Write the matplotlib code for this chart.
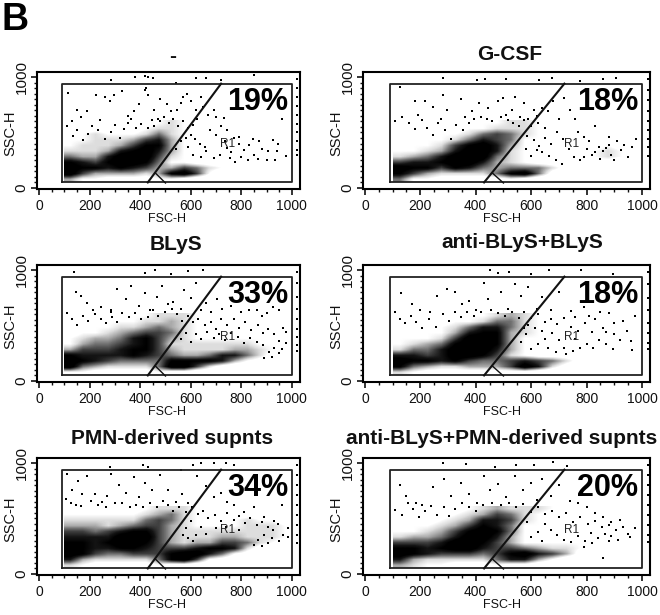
import matplotlib
matplotlib.use("Agg")
import matplotlib.pyplot as plt
from matplotlib.colors import LinearSegmentedColormap

plt.rcParams['font.family'] = ['Liberation Sans', 'DejaVu Sans']

W, H = 660, 615
TITLES = ["-", "G-CSF", "BLyS", "anti-BLyS+BLyS", "PMN-derived supnts", "anti-BLyS+PMN-derived supnts"]
PERCENTS = ["19%", "18%", "33%", "18%", "34%", "20%"]
XTICKS = [0, 200, 400, 600, 800, 1000]
GATE_X = [90, 1000, 1000, 90, 90]
GATE_Y = [50, 50, 940, 940, 50]
R1_LINE_X = [430, 720]
R1_LINE_Y = [50, 940]
R1_TAIL_X = [460, 500]
R1_TAIL_Y = [135, 45]

# Estimated density per 50x50 cell (0-9), FSC 100..1000 left to right, SSC 600..50 top to bottom
DENSITY_NONE = [
 [1,1,1,1,1,1,1,2,3,2,2,1,0,0,0,0,0,0],
 [1,1,1,1,1,1,2,3,3,2,1,1,0,0,0,0,0,0],
 [1,2,3,2,2,2,3,5,3,2,1,1,1,0,0,0,0,0],
 [2,2,3,3,3,4,6,7,4,2,1,1,0,1,0,0,0,0],
 [2,3,3,3,4,6,8,8,4,2,1,1,0,1,1,0,1,0],
 [3,3,3,4,7,8,9,7,4,2,1,1,1,1,1,1,1,1],
 [5,4,4,7,9,9,9,6,3,2,1,1,1,1,1,0,1,1],
 [8,7,6,8,9,9,8,5,2,2,1,1,1,1,1,0,0,0],
 [9,8,8,7,8,7,6,4,4,6,5,3,2,1,0,0,0,0],
 [9,6,4,4,4,4,3,4,8,9,6,2,0,0,0,0,0,0],
 [4,2,2,1,1,1,1,2,2,1,0,0,0,0,0,0,0,0]]
DENSITY_GCSF = [
 [1,1,1,1,1,1,2,2,3,3,2,1,0,0,0,0,0,0],
 [1,2,1,1,1,2,2,3,3,3,2,1,1,0,0,0,0,0],
 [1,1,1,2,2,3,5,6,5,3,2,1,1,0,0,0,0,0],
 [1,1,2,2,3,5,7,6,5,2,2,1,1,0,0,1,0,0],
 [2,2,2,3,6,8,9,7,4,2,1,1,1,1,1,2,1,1],
 [2,2,3,4,7,9,9,7,3,2,1,1,1,1,2,3,2,1],
 [3,4,5,7,9,9,9,5,3,2,1,1,1,1,2,3,2,1],
 [6,7,7,8,9,9,7,4,3,2,1,1,1,1,1,1,0,0],
 [9,8,8,6,8,7,5,4,5,5,5,3,1,0,0,0,0,0],
 [8,6,4,3,3,3,3,5,8,9,5,1,0,0,0,0,0,0],
 [5,2,2,1,1,1,1,1,2,1,0,0,0,0,0,0,0,0]]
DENSITY_BLYS = [
 [1,1,2,2,2,2,2,3,3,3,2,1,1,0,0,0,0,0],
 [1,1,1,2,2,2,3,3,4,3,2,1,1,1,0,0,0,0],
 [1,2,2,2,3,3,4,5,4,3,2,1,1,0,1,1,0,0],
 [1,2,2,3,4,5,6,6,5,3,2,1,1,1,1,1,1,1],
 [2,3,4,4,5,7,8,6,4,3,2,2,2,2,2,2,2,1],
 [2,4,5,5,6,7,8,6,3,3,3,3,3,3,3,2,2,2],
 [4,6,6,6,7,8,8,6,4,3,3,3,3,4,4,3,2,1],
 [8,7,7,7,7,8,7,6,5,4,4,5,7,7,5,3,1,1],
 [9,8,7,6,5,5,5,5,8,8,8,8,7,4,2,1,0,0],
 [9,5,4,3,3,3,3,5,9,9,6,3,1,0,0,0,0,0],
 [2,2,1,1,1,1,1,2,1,1,0,0,0,0,0,0,0,0]]
DENSITY_ANTI = [
 [1,1,1,1,1,2,2,3,4,3,2,2,1,1,1,1,0,0],
 [1,1,1,1,2,2,3,5,5,3,2,1,1,0,1,0,0,0],
 [1,1,1,2,3,5,7,7,5,3,2,1,1,0,0,1,1,0],
 [1,2,2,2,4,7,8,8,4,3,2,1,1,1,1,1,1,0],
 [2,2,2,3,6,9,9,8,4,2,2,1,1,1,1,1,1,1],
 [2,3,4,5,8,9,9,8,4,2,1,1,1,1,1,1,2,1],
 [3,5,5,7,9,9,9,7,4,2,1,1,1,1,1,1,1,0],
 [7,7,6,7,9,9,8,6,3,2,1,1,1,1,1,0,1,0],
 [9,8,8,7,8,6,5,5,6,7,6,5,3,1,0,0,0,0],
 [8,5,4,3,3,4,4,4,6,9,7,3,1,0,0,0,0,0],
 [3,2,1,1,1,1,1,1,1,1,0,0,0,0,0,0,0,0]]
DENSITY_PMN = [
 [2,2,2,2,1,1,2,3,3,3,2,1,1,1,1,0,0,0],
 [2,2,2,2,2,2,3,4,5,3,2,1,1,1,1,1,1,0],
 [3,3,3,3,3,3,5,6,5,3,2,2,2,2,3,2,2,1],
 [4,4,4,3,4,5,6,6,4,3,2,2,2,2,3,3,3,2],
 [6,6,5,6,7,8,8,6,4,3,3,3,3,3,3,3,3,2],
 [7,7,7,7,9,9,9,6,4,3,3,3,4,4,3,3,3,2],
 [8,8,7,8,9,9,8,6,4,3,4,4,6,6,5,3,2,1],
 [9,8,7,7,8,8,7,6,6,6,7,8,8,7,3,1,0,0],
 [9,8,6,5,5,6,6,6,8,9,9,7,5,2,1,0,0,0],
 [7,4,3,3,3,3,3,5,8,9,6,2,1,0,0,0,0,0],
 [3,2,1,1,1,1,1,2,1,1,0,0,0,0,0,0,0,0]]
DENSITY_ANTI_PMN = [
 [1,1,1,1,1,2,3,4,3,3,3,2,1,1,1,1,0,0],
 [1,1,1,1,2,3,4,6,5,3,2,1,1,1,1,1,1,0],
 [1,2,1,2,3,4,7,7,6,3,2,1,1,1,1,1,1,0],
 [1,2,2,3,4,6,8,7,5,2,2,1,1,1,2,2,1,1],
 [2,2,3,4,6,8,9,8,5,2,1,1,1,2,2,2,2,1],
 [3,4,4,5,7,9,9,7,4,2,1,1,1,2,2,2,2,1],
 [6,6,6,7,9,9,8,6,4,2,2,2,2,2,2,1,1,0],
 [8,8,7,8,9,9,7,6,6,5,4,3,3,2,1,0,0,0],
 [9,8,7,6,6,6,5,6,8,9,7,6,4,1,0,0,0,0],
 [7,4,3,3,3,3,3,5,7,7,4,2,0,0,0,0,0,0],
 [4,3,2,2,1,1,1,2,1,1,0,0,0,0,0,0,0,0]]
DENSITIES = [DENSITY_NONE, DENSITY_GCSF, DENSITY_BLYS, DENSITY_ANTI, DENSITY_PMN, DENSITY_ANTI_PMN]

# Individually read events outside the dense clouds: (FSC, SSC)
EVENTS_NONE = [(115,860),(225,840),(260,820),(150,700),(190,690),(130,600),(165,640),(240,610),(280,780),(295,840),(330,870),(350,650),(375,690),(395,760),(420,880),(425,900),(430,840),(445,610),(455,700),(470,620),(480,800),(505,760),(520,690),(545,700),(560,770),(570,820),(585,850),(600,780),(620,700),(640,820),(650,730),(670,660),(690,700),(700,640),(730,630),(745,360),(760,320),(790,460),(800,280),(830,390),(850,300),(870,420),(880,350),(900,250),(925,430),(940,330),(960,620),(975,290),(285,970),(380,1000),(420,1010),(430,1000),(450,990),(540,950),(620,990),(660,990),(720,970),(850,1020),
 (110,560),(135,470),(150,520),(175,430),(195,490),(210,560),(235,520),(260,440),(285,500),(300,570),(320,450),(335,530),(350,590),(365,620),(385,540),(405,580),(430,540),(455,560),(480,600),(495,640),(515,590),(530,620),(550,560),(570,600),(590,540),(610,570),(625,620),(600,480),(615,440),(635,400),(655,370),(675,520),(700,480),(720,560),(745,520),(770,450),(790,400),(810,340),(825,250),(845,440),(865,260),(905,330),(935,250),(945,400),(715,300),(690,270),(660,330),(640,280),(610,300),(590,370),(735,420),(755,270),(775,230),(580,450),(560,420),(540,350),
 (1022,980),(1022,900),(1022,820),(1022,740),(1022,660),(1022,580),(1022,500),(1022,420),(1022,340),(1022,300)]
EVENTS_GCSF = [(125,910),(180,780),(190,660),(215,780),(245,730),(275,620),(280,840),(295,700),(345,800),(360,640),(385,690),(410,770),(440,620),(445,720),(480,780),(500,810),(510,660),(530,700),(540,820),(560,640),(575,770),(590,620),(610,700),(620,650),(640,720),(660,690),(680,780),(700,620),(720,810),(740,700),(760,620),(790,460),(800,350),(820,300),(850,260),(870,360),(890,300),(910,420),(925,340),(950,280),(280,990),(405,975),(435,985),(510,985),(630,970),(675,990),(775,960),(860,985),(905,990),
 (110,600),(135,640),(160,590),(180,530),(205,610),(225,540),(245,480),(265,590),(290,520),(310,440),(330,570),(355,520),(375,590),(395,620),(420,640),(460,600),(490,640),(515,610),(535,590),(555,560),(575,610),(600,560),(625,590),(650,540),(585,470),(610,430),(630,380),(650,450),(670,400),(695,500),(715,440),(735,350),(755,280),(775,250),(640,320),(665,290),(690,250),(710,220),(600,290),(620,340),(580,350),(790,280),(810,420),(830,320),(845,370),(860,330),(880,390),(900,250),(935,390),(965,370),(980,440),(830,560),(880,460),(770,500),
 (1022,980),(1022,880),(1022,790),(1022,690),(1022,600),(1022,520),(1022,440),(1022,370),(1022,290)]
EVENTS_BLYS = [(140,980),(145,800),(165,770),(190,700),(215,640),(245,670),(285,620),(310,830),(345,740),(365,860),(395,680),(420,790),(440,640),(465,760),(485,860),(510,690),(530,710),(560,650),(575,820),(600,750),(620,880),(640,640),(660,700),(680,620),(705,740),(725,650),(760,680),(800,620),(830,640),(860,640),(880,590),(900,610),(925,670),(950,640),(965,480),(975,440),(285,640),(420,970),(460,1000),(520,960),(590,990),(650,1000),
 (110,610),(130,560),(150,500),(175,590),(195,540),(220,600),(245,560),(265,520),(290,580),(310,530),(330,610),(355,580),(380,610),(405,560),(430,580),(450,640),(470,590),(500,620),(525,650),(545,600),(565,540),(590,590),(610,530),(630,560),(655,500),(680,530),(700,470),(720,560),(745,500),(770,560),(790,480),(815,530),(840,460),(865,500),(885,430),(905,470),(930,420),(950,360),(975,340),(960,290),(930,300),(910,260),(885,320),(860,350),(835,390),(810,340),(785,400),(760,430),(735,370),(710,420),(690,390),(665,440),(640,380),(620,420),(600,350),(580,430),(560,380),(920,220),(950,250),(890,210),
 (1022,980),(1022,880),(1022,760),(1022,650),(1022,560),(1022,470),(1022,400),(1022,320),(1022,270)]
EVENTS_ANTI = [(130,790),(170,690),(200,640),(235,620),(260,770),(295,830),(325,800),(350,690),(375,720),(400,640),(430,880),(445,740),(490,800),(515,650),(540,870),(565,770),(590,850),(620,650),(640,760),(670,640),(700,800),(745,630),(760,580),(790,670),(810,590),(830,560),(860,480),(880,610),(900,420),(930,540),(960,360),(975,590),(450,1000),(480,970),(520,980),(600,960),(665,1000),(780,1000),(895,960),
 (110,620),(125,560),(145,520),(165,590),(185,530),(205,480),(230,560),(255,490),(280,600),(305,540),(325,620),(345,580),(370,620),(395,590),(420,620),(455,640),(480,610),(505,590),(530,620),(555,570),(575,620),(600,570),(625,600),(650,530),(670,560),(695,510),(720,570),(745,490),(770,450),(795,520),(820,440),(845,370),(870,330),(895,290),(920,370),(945,450),(965,280),(900,520),(850,620),(800,330),(775,300),(750,270),(725,240),(700,370),(675,430),(650,380),(625,330),(600,290),(580,420),(565,350),(720,300),(690,260),(660,300),(640,450),(615,480),(590,500),(575,480),(760,380),(825,300),(870,440),
 (1022,980),(1022,870),(1022,750),(1022,640),(1022,520),(1022,430),(1022,340),(1022,290)]
EVENTS_PMN = [(110,900),(130,760),(145,620),(170,720),(190,880),(220,720),(250,650),(285,900),(315,800),(345,730),(375,870),(395,690),(420,820),(445,760),(480,890),(510,760),(540,650),(565,720),(590,640),(625,880),(660,790),(690,690),(720,730),(745,650),(770,620),(810,560),(850,600),(890,510),(930,480),(960,620),(985,410),(280,960),(410,980),(430,960),(560,940),(610,980),(640,1000),(690,1000),(740,1000),(770,980),
 (105,680),(125,640),(155,840),(165,610),(205,660),(235,620),(265,600),(270,700),(300,640),(330,640),(360,600),(385,620),(410,600),(440,640),(465,600),(490,660),(510,620),(530,570),(555,600),(580,560),(605,600),(630,540),(650,570),(670,500),(695,530),(720,480),(745,550),(770,490),(790,520),(815,460),(835,500),(860,440),(880,470),(905,420),(925,400),(945,450),(965,350),(985,330),(950,300),(920,320),(890,350),(865,310),(880,250),(850,260),(905,280),(640,420),(600,480),(620,350),(580,410),(660,360),(700,410),(740,420),(790,400),(610,300),(590,320),(570,350),
 (1022,980),(1022,890),(1022,800),(1022,710),(1022,620),(1022,530),(1022,440),(1022,350),(1022,280)]
EVENTS_ANTI_PMN = [(125,800),(150,700),(185,640),(205,620),(245,780),(285,860),(310,700),(345,820),(375,720),(405,640),(430,880),(450,760),(480,810),(510,690),(540,880),(570,760),(600,820),(620,670),(640,860),(670,700),(700,800),(740,660),(770,640),(800,600),(830,550),(860,510),(890,470),(920,490),(950,360),(975,410),(280,1000),(365,990),(470,960),(545,980),(610,985),(680,1010),(730,970),
 (110,580),(135,530),(155,640),(175,590),(195,510),(215,570),(240,610),(260,530),(285,600),(305,520),(325,590),(350,640),(375,600),(400,570),(425,620),(460,640),(490,620),(520,640),(545,600),(570,630),(600,560),(625,600),(650,540),(675,570),(700,510),(725,550),(750,470),(775,510),(805,450),(830,480),(855,420),(880,440),(905,400),(930,420),(955,330),(915,310),(890,340),(865,360),(840,320),(815,370),(795,300),(770,340),(745,290),(720,310),(695,350),(670,400),(650,450),(625,380),(600,330),(585,470),(640,300),(860,140),(880,300),(820,280),(790,240),
 (1022,980),(1022,890),(1022,800),(1022,710),(1022,620),(1022,530),(1022,440),(1022,350),(1022,290)]
EVENTS = [EVENTS_NONE, EVENTS_GCSF, EVENTS_BLYS, EVENTS_ANTI, EVENTS_PMN, EVENTS_ANTI_PMN]

# Pixel layout: frame left, right, top, bottom; x limits
FRAMES = [(37,300,72,189),(363,650,72,189),(37,300,265,382),(363,650,265,382),(37,300,458,575),(363,650,458,575)]
XLIMS = [(-8,1032),(-7,1029)]
TITLE_POS = [(173,57),(510,54),(176,244),(522,243),(172,439),(502,438)]

cmap = LinearSegmentedColormap.from_list("dens", [(0,"#ffffff"),(2/9,"#ffffff"),(3/9,"#dddddd"),(4/9,"#aaaaaa"),(5/9,"#707070"),(6/9,"#404040"),(7/9,"#141414"),(8/9,"#000000"),(1,"#000000")])

fig = plt.figure(figsize=(W/100, H/100), dpi=100)
fig.text(2/W, 1-30/H, "B", fontsize=27, fontweight="bold", ha="left", va="baseline")

for i in range(6):
    l, r, t, b = FRAMES[i]
    ax = fig.add_axes([l/W, 1-b/H, (r-l)/W, (b-t)/H])
    ax.imshow(DENSITIES[i], extent=(100,1000,50,600), origin="upper", cmap=cmap, vmin=0, vmax=9,
              interpolation="bilinear", aspect="auto", zorder=1)
    xs = [e[0] for e in EVENTS[i]]
    ys = [e[1] for e in EVENTS[i]]
    ax.scatter(xs, ys, s=2.4, c="k", marker="s", linewidths=0, zorder=2, clip_on=True)
    ax.plot(GATE_X, GATE_Y, color="#222222", lw=1.3, zorder=3)
    ax.plot(R1_LINE_X, R1_LINE_Y, color="#111111", lw=1.5, zorder=3)
    ax.plot(R1_TAIL_X, R1_TAIL_Y, color="#111111", lw=1.0, zorder=3)
    ax.set_xlim(*XLIMS[i % 2])
    ax.set_ylim(-9, 1045)
    ax.set_xticks(XTICKS)
    ax.set_xticks(list(range(0, 1001, 50)), minor=True)
    ax.set_yticks([0, 1000])
    ax.set_yticks(list(range(0, 1001, 50)), minor=True)
    ax.tick_params(axis="x", which="major", length=4, width=1.2, labelsize=10, pad=3, colors="#111111")
    ax.tick_params(axis="y", which="major", length=4, width=1.2, labelsize=11, pad=2, colors="#111111", labelrotation=90)
    ax.tick_params(axis="both", which="minor", length=2, width=1.0, colors="#111111")
    for lab in ax.get_yticklabels():
        lab.set_va("center")
    for s in ax.spines.values():
        s.set_linewidth(1.5)
    ax.text(747, 395, "R1", fontsize=8.5, ha="center", va="center", color="#222222", zorder=4)
    fig.text((l+130 if i % 2 == 0 else l+139)/W, 1-(b+30)/H, "FSC-H", fontsize=9, ha="center", va="center", color="#111111")
    fig.text((l-27)/W, 1-(t+61)/H, "SSC-H", fontsize=10.5, rotation=90, ha="center", va="center", color="#111111")
    ax.text(0.954 if i % 2 == 0 else 0.958, 0.745, PERCENTS[i], transform=ax.transAxes, fontsize=22, fontweight="bold",
            ha="right", va="center", color="#000000", zorder=5)
    tx, ty = TITLE_POS[i]
    fig.text(tx/W, 1-ty/H, TITLES[i], fontsize=15, fontweight="bold", ha="center", va="center", color="#111111")

fig.savefig("out.png", dpi=100)
